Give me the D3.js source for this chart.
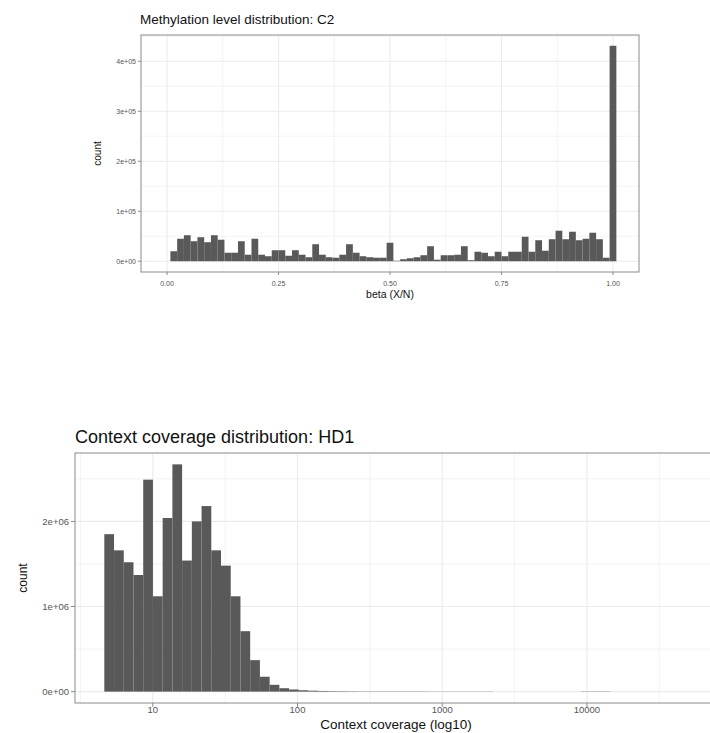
<!DOCTYPE html>
<html><head><meta charset="utf-8">
<script src="https://cdn.jsdelivr.net/npm/d3@7"></script>
<style>body{margin:0;background:#fff;overflow:hidden}svg{display:block}text{font-family:"Liberation Sans",Arial,sans-serif}</style>
</head><body>
<svg id="c" width="710" height="733"></svg>
<script>
// ---------- Data: methylation (beta) histogram, bins of width 1/66 centred on k/66 ----------
const betaBinCount = 67;
const betaCounts = [ // units of 1e5
  0.00,0.20,0.45,0.52,0.40,0.48,0.38,0.52,0.43,0.17,
  0.17,0.40,0.13,0.45,0.13,0.10,0.22,0.22,0.11,0.22,
  0.13,0.08,0.34,0.13,0.08,0.07,0.13,0.34,0.17,0.10,
  0.08,0.07,0.07,0.37,0.01,0.04,0.06,0.08,0.12,0.30,
  0.03,0.12,0.12,0.13,0.30,0.02,0.19,0.17,0.10,0.19,
  0.10,0.19,0.19,0.49,0.19,0.42,0.21,0.44,0.61,0.44,
  0.59,0.42,0.45,0.57,0.44,0.07,4.31
];
const betaTicks = [0, 0.25, 0.5, 0.75, 1];
const betaTickLabels = ["0.00","0.25","0.50","0.75","1.00"];
const betaYTicks = [0,1,2,3,4];
const betaYTickLabels = ["0e+00","1e+05","2e+05","3e+05","4e+05"];

// ---------- Data: context coverage histogram (log10 bins) ----------
const covBinStartLog = 0.665;
const covBinWidthLog = 0.0672;
const covCounts = [ // units of 1e6
  1.85,1.66,1.52,1.37,2.49,1.12,2.04,2.67,1.54,2.00,
  2.18,1.66,1.48,1.12,0.71,0.37,0.175,0.08,0.04,0.025,
  0.016,0.011,0.008,0.006,0.005,0.004,0.003,0.003,0.003,0.003,
  0.003,0.003,0.003,0.002,0.002,0.002,0.002,0.002,0.002,0.002,
  0,0,0,0,0,0,0,0,0,0.003,0.003,0.003
];
const covTicks = [10, 100, 1000, 10000];
const covTickLabels = ["10","100","1000","10000"];
const covYTicks = [0,1,2];
const covYTickLabels = ["0e+00","1e+06","2e+06"];
const covAxisMax = 52100;

const svg = d3.select("#c");
const BAR = "#595959", GRID = "#ebebeb", BORDER = "#8a8a8a", TICKTXT = "#555";

function panel(opt){
  const g = svg.append("g");
  const {x, y, L, R, T, B} = opt;
  opt.xMinor.forEach(v=>g.append("line").attr("x1",x(v)).attr("x2",x(v)).attr("y1",T).attr("y2",B).attr("stroke",GRID).attr("stroke-width",0.6));
  opt.yMinor.forEach(v=>g.append("line").attr("x1",L).attr("x2",R).attr("y1",y(v)).attr("y2",y(v)).attr("stroke",GRID).attr("stroke-width",0.6));
  opt.xTicks.forEach(v=>g.append("line").attr("x1",x(v)).attr("x2",x(v)).attr("y1",T).attr("y2",B).attr("stroke",GRID).attr("stroke-width",1.1));
  opt.yTicks.forEach(v=>g.append("line").attr("x1",L).attr("x2",R).attr("y1",y(v)).attr("y2",y(v)).attr("stroke",GRID).attr("stroke-width",1.1));
  g.selectAll("rect.bar").data(opt.bars).join("rect")
    .attr("x",d=>x(d.x0)).attr("width",d=>Math.max(0,x(d.x1)-x(d.x0)))
    .attr("y",d=>y(d.v)).attr("height",d=>Math.max(0,y(0)-y(d.v)))
    .attr("fill",BAR);
  g.append("rect").attr("x",L).attr("y",T).attr("width",R-L).attr("height",B-T)
    .attr("fill","none").attr("stroke",BORDER).attr("stroke-width",1);
  opt.xTicks.forEach((v,i)=>{
    g.append("line").attr("x1",x(v)).attr("x2",x(v)).attr("y1",B).attr("y2",B+opt.tl).attr("stroke",BORDER);
    g.append("text").attr("x",x(v)).attr("y",opt.xLabY).attr("text-anchor","middle")
      .attr("font-size",opt.tickFs).attr("fill",TICKTXT).text(opt.xLabels[i]);
  });
  opt.yTicks.forEach((v,i)=>{
    g.append("line").attr("x1",L-opt.tl).attr("x2",L).attr("y1",y(v)).attr("y2",y(v)).attr("stroke",BORDER);
    g.append("text").attr("x",L-opt.tl-2).attr("y",y(v)).attr("dy","0.35em").attr("text-anchor","end")
      .attr("font-size",opt.tickFs).attr("fill",TICKTXT).text(opt.yLabels[i]);
  });
  g.append("text").attr("x",opt.titleX).attr("y",opt.titleY).attr("font-size",opt.titleFs).attr("fill","#111").text(opt.title);
  g.append("text").attr("x",opt.xTitleX).attr("y",opt.xTitleY).attr("text-anchor","middle")
    .attr("font-size",opt.axFs).attr("fill","#111").text(opt.xTitle);
  g.append("text").attr("transform",`translate(${opt.yTitleX},${(T+B)/2}) rotate(-90)`).attr("text-anchor","middle")
    .attr("font-size",opt.yAxFs).attr("fill","#111").text("count");
}

// ---------- Top chart ----------
{
  const L=141, R=639, T=35, B=272;
  const half = 1/(2*(betaBinCount-1));
  const bars = betaCounts.map((v,k)=>({x0:k/(betaBinCount-1)-half, x1:k/(betaBinCount-1)+half, v}));
  const xlo = bars[0].x0, xhi = bars[bars.length-1].x1, xr = xhi-xlo;
  const x = d3.scaleLinear().domain([xlo-0.05*xr, xhi+0.05*xr]).range([L,R]);
  const ymax = d3.max(betaCounts);
  const y = d3.scaleLinear().domain([-0.05*ymax, 1.05*ymax]).range([B,T]);
  panel({x,y,L,R,T,B,bars,
    xTicks:betaTicks, xLabels:betaTickLabels, xMinor:[0.125,0.375,0.625,0.875],
    yTicks:betaYTicks, yLabels:betaYTickLabels, yMinor:[0.5,1.5,2.5,3.5,4.5].filter(v=>v<1.05*ymax),
    tl:3, tickFs:7, xLabY:286, title:"Methylation level distribution: C2", titleX:140, titleY:24, titleFs:13.5,
    xTitle:"beta (X/N)", xTitleX:390, xTitleY:298, axFs:10.5, yAxFs:10, yTitleX:101});
}

// ---------- Bottom chart ----------
{
  const L=75, R=720, T=453, B=703;
  const bars = covCounts.map((v,i)=>({x0:Math.pow(10,covBinStartLog+i*covBinWidthLog), x1:Math.pow(10,covBinStartLog+(i+1)*covBinWidthLog), v}));
  const lo = bars[0].x0, lr = Math.log10(covAxisMax)-Math.log10(lo);
  const x = d3.scaleLog().domain([Math.pow(10,Math.log10(lo)-0.05*lr), Math.pow(10,Math.log10(covAxisMax)+0.05*lr)]).range([L,R]);
  const ymax = d3.max(covCounts);
  const y = d3.scaleLinear().domain([-0.05*ymax, 1.05*ymax]).range([B,T]);
  const xMinor = [Math.pow(10,0.5),Math.pow(10,1.5),Math.pow(10,2.5),Math.pow(10,3.5),Math.pow(10,4.5)];
  panel({x,y,L,R,T,B,bars,
    xTicks:covTicks, xLabels:covTickLabels, xMinor,
    yTicks:covYTicks, yLabels:covYTickLabels, yMinor:[0.5,1.5,2.5],
    tl:4, tickFs:9.5, xLabY:713, title:"Context coverage distribution: HD1", titleX:75, titleY:443, titleFs:18,
    xTitle:"Context coverage (log10)", xTitleX:396, xTitleY:729, axFs:13.5, yAxFs:12, yTitleX:27});
}
</script>
</body></html>
